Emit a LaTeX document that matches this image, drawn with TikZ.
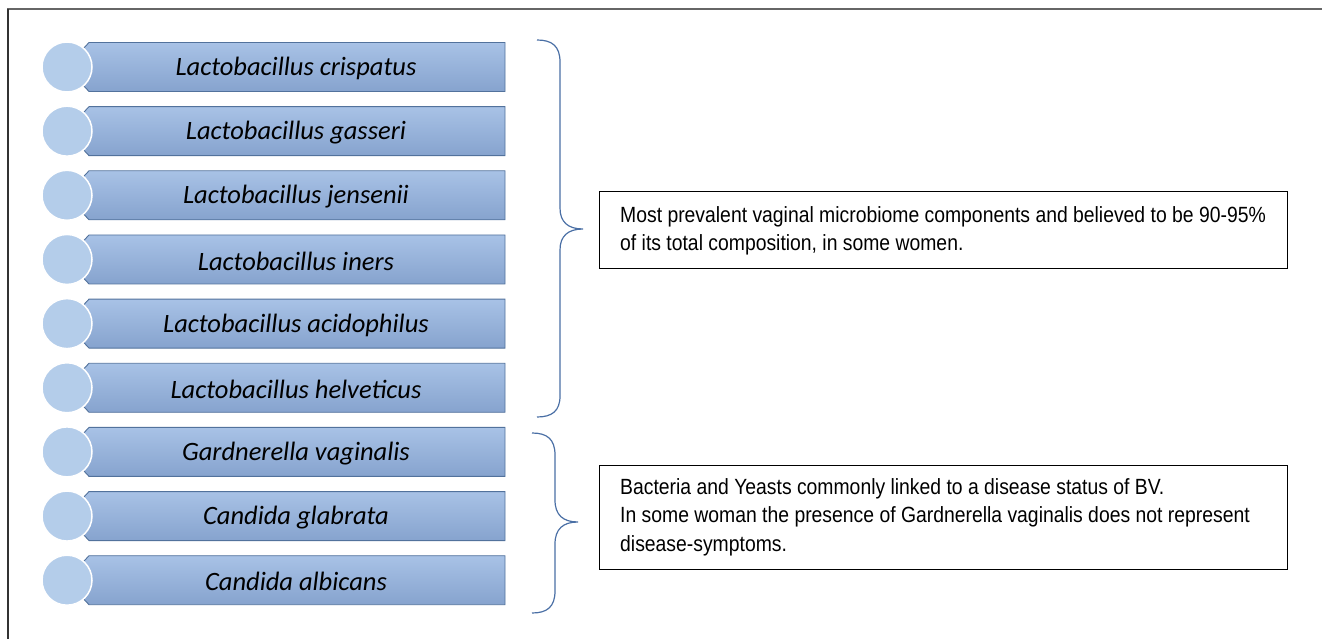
\documentclass[tikz,border=0pt]{standalone}
\usepackage{fontspec}
\setmainfont{Carlito}
\newfontfamily\narrowfont[FakeStretch=0.88]{Liberation Sans}
\definecolor{boxtop}{HTML}{A8C2E6}
\definecolor{boxbot}{HTML}{86A3CE}
\definecolor{boxedge}{HTML}{52729C}
\definecolor{circfill}{HTML}{B4CDEA}
\definecolor{bracecol}{HTML}{4A6FA5}
\tikzset{
  namebox/.style={top color=boxtop, bottom color=boxbot, draw=boxedge, line width=0.9pt, line join=miter},
  bullet/.style={circle, fill=circfill, draw=white, line width=1.5pt, minimum size=50pt, inner sep=0pt},
  nametext/.style={font=\fontsize{26.5}{30}\selectfont\itshape, text=black, inner sep=0pt},
  notebox/.style={draw=black, line width=1.1pt, inner sep=0pt},
  notetext/.style={font=\narrowfont\fontsize{22}{28.5}\selectfont, align=left, anchor=west, inner sep=0pt},
  bracestyle/.style={draw=bracecol, line width=1.2pt}
}
\begin{document}
\begin{tikzpicture}[x=1pt,y=-1pt]
\useasboundingbox (0,0) rectangle (1322,639);
% frame
\draw[line width=1.6pt, draw=gray!80!black] (7,9) -- (1322,9);
\draw[line width=1.8pt, draw=black!80] (8,9) -- (8,639);
% rows
\foreach \i/\t in {0/Lactobacillus crispatus,1/Lactobacillus gasseri,2/Lactobacillus jensenii,3/Lactobacillus iners,4/Lactobacillus acidophilus,5/Lactobacillus helveticus,6/Gardnerella vaginalis,7/Candida glabrata,8/Candida albicans}{
  \pgfmathsetmacro{\c}{67+64.15*\i}
  \path[namebox] (89,\c-24.5) -- (505,\c-24.5) -- (505,\c+24.5) -- (89,\c+24.5) -- (82,\c+17) -- (82,\c-17) -- cycle;
  \node[bullet] (dot\i) at (67,\c) {};
  \node[nametext] (name\i) at (296,\c+1.5) {\t};
}
% braces
\draw[bracestyle] (537,40) .. controls (552,40) and (560,46) .. (560,62)
  -- (560,208) .. controls (560,222) and (568,229) .. (583,229)
  .. controls (568,229) and (560,236) .. (560,250)
  -- (560,396) .. controls (560,411) and (552,417) .. (537,417);
\draw[bracestyle] (532,433) .. controls (547,433) and (555,439) .. (555,455)
  -- (555,500) .. controls (555,515) and (563,522) .. (578,522)
  .. controls (563,522) and (555,529) .. (555,544)
  -- (555,591) .. controls (555,607) and (547,613) .. (532,613);
% note boxes
\node[notebox, minimum width=688pt, minimum height=77pt, anchor=north west] (box1) at (599,191) {};
\node[notetext] (txt1) at (620,231) {Most prevalent vaginal microbiome components and believed to be 90-95\%\\of its total composition, in some women.};
\node[notebox, minimum width=688pt, minimum height=104pt, anchor=north west] (box2) at (599,465) {};
\node[notetext] (txt2) at (620,517) {Bacteria and Yeasts commonly linked to a disease status of BV.\\In some woman the presence of Gardnerella vaginalis does not represent\\disease-symptoms.};
\end{tikzpicture}
\end{document}
